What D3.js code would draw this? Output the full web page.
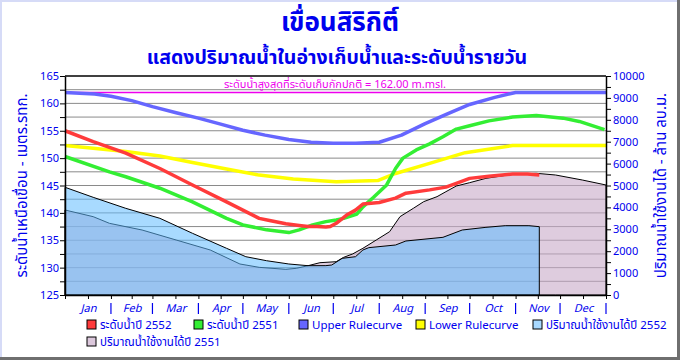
<!DOCTYPE html>
<html><head><meta charset="utf-8">
<script src="https://cdn.jsdelivr.net/npm/d3@7"></script>
<style>
body{margin:0;background:#fff;}
svg{display:block;}
text{font-family:Tahoma,"Noto Sans Thai","Noto Sans","DejaVu Sans",sans-serif;}
</style></head><body>
<svg id="c" width="680" height="360"></svg>
<script>
// ---------- DATA ----------
const months = ["Jan","Feb","Mar","Apr","May","Jun","Jul","Aug","Sep","Oct","Nov","Dec"];
const monthStart = [0,31,59,90,120,151,181,212,243,273,304,334,365];
const levelTicks = d3.range(125, 165.01, 2.5);
const volumeTicks = d3.range(0, 10000.1, 500);

// Upper rule curve (m.msl) by day of year
const upperDays = [0, 20, 31, 45, 59, 75, 90, 105, 120, 135, 151, 166, 181, 196, 212, 227, 243, 258, 273, 290, 304, 365];
const upperVals = [162, 161.7, 161.3, 160.5, 159.4, 158.3, 157.3, 156.2, 155.1, 154.2, 153.4, 152.9, 152.7, 152.7, 152.9, 154.2, 156.3, 158.1, 159.8, 161.1, 162, 162];

// Lower rule curve
const lowerDays = [0, 19, 41, 64, 86, 109, 131, 154, 183, 211, 223, 246, 270, 302, 365];
const lowerVals = [152.3, 151.8, 151.2, 150.4, 149.2, 148.0, 146.9, 146.2, 145.7, 145.9, 147.2, 149.05, 151.0, 152.3, 152.3];

// Water level 2552
const level52Days = [0, 19, 41, 64, 86, 109, 131, 138, 149, 158, 164, 170, 176, 179, 183, 190, 196, 201, 212, 223, 230, 246, 257, 264, 273, 286, 302, 312, 320];
const level52Vals = [155.0, 153.0, 150.9, 148.1, 145.1, 142.0, 139.0, 138.6, 138.0, 137.7, 137.5, 137.5, 137.4, 137.5, 138.1, 139.6, 140.5, 141.6, 141.9, 142.7, 143.6, 144.2, 144.7, 145.4, 146.3, 146.7, 147.1, 147.1, 146.9];

// Water level 2551
const level51Days = [0, 30, 41, 64, 86, 109, 120, 136, 151, 158, 167, 176, 183, 188, 197, 201, 208, 217, 223, 228, 237, 246, 255, 264, 273, 286, 302, 318, 336, 347, 364];
const level51Vals = [150.3, 147.5, 146.6, 144.5, 142.0, 139.0, 137.8, 136.9, 136.4, 136.9, 137.8, 138.4, 138.7, 139.0, 139.8, 141.1, 142.8, 145.1, 148.1, 150.0, 151.5, 152.6, 153.9, 155.3, 155.9, 156.8, 157.5, 157.8, 157.3, 156.7, 155.2];

// Usable storage 2552 (million m3)
const vol52Days = [0, 19, 41, 64, 86, 109, 122, 136, 151, 164, 176, 180, 187, 196, 201, 205, 223, 230, 255, 268, 284, 297, 313, 320];
const vol52Vals = [4918, 4461, 3957, 3502, 2817, 2132, 1749, 1566, 1416, 1338, 1340, 1370, 1674, 1749, 2055, 2162, 2283, 2466, 2634, 2968, 3090, 3166, 3166, 3120];

// Usable storage 2551
const vol51Days = [0, 19, 30, 52, 75, 98, 118, 131, 149, 156, 164, 172, 183, 188, 194, 201, 210, 219, 226, 235, 242, 251, 257, 264, 273, 284, 302, 318, 331, 349, 365];
const vol51Vals = [3881, 3577, 3272, 2968, 2511, 2055, 1416, 1263, 1172, 1218, 1338, 1475, 1521, 1720, 1872, 2132, 2511, 2891, 3577, 3957, 4262, 4490, 4718, 4977, 5129, 5327, 5511, 5557, 5479, 5251, 5023];

const normalLevel = 162.0;

// ---------- CHART ----------
const svg = d3.select("#c");
const W = 680, H = 360;
const L = 65, R = 606, T = 76, B = 295;
const blue = "#0000ee";

// frame
svg.append("rect").attr("x",0).attr("y",0).attr("width",W).attr("height",H).attr("fill","#fff");
svg.append("rect").attr("x",0).attr("y",0).attr("width",2).attr("height",H).attr("fill","#d6dbf7");
svg.append("rect").attr("x",0).attr("y",0).attr("width",W).attr("height",2).attr("fill","#d6dbf7");
svg.append("rect").attr("x",W-3).attr("y",0).attr("width",3).attr("height",H).attr("fill","#6f6f6f");
svg.append("rect").attr("x",0).attr("y",H-3).attr("width",W).attr("height",3).attr("fill","#6f6f6f");

const x = d3.scaleLinear().domain([0,365]).range([L,R]);
const yL = d3.scaleLinear().domain([125,165]).range([B,T]);
const yR = d3.scaleLinear().domain([0,10000]).range([B,T]);

// titles
svg.append("text").attr("x",340).attr("y",31).attr("text-anchor","middle")
  .attr("font-size",26).attr("font-weight","bold").attr("fill",blue).text("เขื่อนสิริกิติ์");
svg.append("text").attr("x",337).attr("y",64).attr("text-anchor","middle")
  .attr("font-size",19.5).attr("font-weight","bold").attr("fill",blue).text("แสดงปริมาณน้ำในอ่างเก็บน้ำและระดับน้ำรายวัน");

// gridlines
svg.append("g").selectAll("line").data(levelTicks.filter(v=>v>125 && v<165)).join("line")
  .attr("x1",L).attr("x2",R).attr("y1",d=>yL(d)).attr("y2",d=>yL(d))
  .attr("stroke","#8a8a8a").attr("stroke-width",1);

// areas
const mk = (days, vals) => days.map((d,i)=>({d, v: vals[i]}));
const areaGen = d3.area().x(p=>x(p.d)).y0(yR(0)).y1(p=>yR(p.v));
const v51 = mk(vol51Days, vol51Vals), v52 = mk(vol52Days, vol52Vals);
svg.append("path").datum(v51).attr("d",areaGen)
  .attr("fill","rgb(200,170,200)").attr("fill-opacity",0.6)
  .attr("stroke","#000").attr("stroke-width",1);
svg.append("path").datum(v52).attr("d",areaGen)
  .attr("fill","rgb(97,188,255)").attr("fill-opacity",0.55)
  .attr("stroke","#000").attr("stroke-width",1);

// normal storage level line + text
svg.append("line").attr("x1",L).attr("x2",R).attr("y1",yL(normalLevel)).attr("y2",yL(normalLevel))
  .attr("stroke","#ee00ee").attr("stroke-width",1.5);
svg.append("text").attr("x",335).attr("y",yL(normalLevel)-4).attr("text-anchor","middle")
  .attr("font-size",11).attr("fill","#ee00ee").text("ระดับน้ำสูงสุดที่ระดับเก็บกักปกติ = 162.00 m.msl.");

// lines
const lineGen = d3.line().x(p=>x(p.d)).y(p=>yL(p.v));
const series = [
  {days: lowerDays, vals: lowerVals, color: "#ffff00"},
  {days: upperDays, vals: upperVals, color: "#6666ff"},
  {days: level51Days, vals: level51Vals, color: "#33ee33"},
  {days: level52Days, vals: level52Vals, color: "#ff3b3b"}
];
series.forEach(s=>{
  svg.append("path").datum(mk(s.days,s.vals)).attr("d",lineGen)
    .attr("fill","none").attr("stroke",s.color).attr("stroke-width",3.5)
    .attr("stroke-linejoin","round").attr("stroke-linecap","butt");
});

// top frame line
svg.append("line").attr("x1",L).attr("x2",R).attr("y1",T).attr("y2",T).attr("stroke","#000").attr("stroke-width",1.5);

// left axis
const axL = svg.append("g").attr("transform",`translate(${L},0)`)
  .call(d3.axisLeft(yL).tickValues(levelTicks).tickSize(5).tickSizeOuter(0)
    .tickFormat(d => d % 5 === 0 ? d3.format("d")(d) : ""));
// right axis
const axR = svg.append("g").attr("transform",`translate(${R},0)`)
  .call(d3.axisRight(yR).tickValues(volumeTicks).tickSize(5).tickSizeOuter(0)
    .tickFormat(d => d % 1000 === 0 ? d3.format("d")(d) : ""));
// bottom axis ticks
const mids = monthStart.slice(0,12).map((s,i)=>(s+monthStart[i+1])/2);
const axB = svg.append("g").attr("transform",`translate(0,${B})`)
  .call(d3.axisBottom(x).tickValues(monthStart.concat(mids)).tickSize(4).tickSizeOuter(0).tickFormat(""));
[axL, axR, axB].forEach(g=>{
  g.select(".domain").attr("stroke","#000").attr("stroke-width",1.5);
  g.selectAll(".tick line").attr("stroke","#000");
  g.selectAll(".tick text").attr("fill",blue).attr("font-size",11)
    .attr("font-family","Tahoma,'DejaVu Sans',sans-serif");
});
axL.selectAll(".tick text").attr("x",-6);
axR.selectAll(".tick text").attr("x",7);

// month labels
const axM = svg.append("g").attr("transform",`translate(0,${B+4})`)
  .call(d3.axisBottom(x).tickValues(mids).tickSize(0).tickFormat((d,i)=>months[i]));
axM.select(".domain").remove();
axM.selectAll(".tick text").attr("fill",blue).attr("font-size",11).attr("font-style","italic")
  .attr("font-family","'Liberation Serif','Times New Roman',serif").attr("dy","0.9em");
// month separators
svg.append("g").selectAll("line").data(monthStart.slice(1)).join("line")
  .attr("x1",d=>x(d)).attr("x2",d=>x(d)).attr("y1",B+8).attr("y2",B+19)
  .attr("stroke",blue).attr("stroke-width",1.2);

// axis titles
svg.append("text").attr("transform",`translate(27,${(T+B)/2}) rotate(-90)`).attr("text-anchor","middle")
  .attr("font-size",15).attr("fill",blue).text("ระดับน้ำเหนือเขื่อน - เมตร.รทก.");
svg.append("text").attr("transform",`translate(666,${(T+B)/2}) rotate(-90)`).attr("text-anchor","middle")
  .attr("font-size",15).attr("fill",blue).text("ปริมาณน้ำใช้งานได้ - ล้าน ลบ.ม.");

// legend
const legend = [
  {label:"ระดับน้ำปี 2552", color:"#ff3b3b", x:87, y:325},
  {label:"ระดับน้ำปี 2551", color:"#33ee33", x:194, y:325},
  {label:"Upper Rulecurve", color:"#6666ff", x:299, y:325},
  {label:"Lower Rulecurve", color:"#ffff00", x:416, y:325},
  {label:"ปริมาณน้ำใช้งานได้ปี 2552", color:"#a8d9ff", x:533, y:325},
  {label:"ปริมาณน้ำใช้งานได้ปี 2551", color:"#dcc8dc", x:87, y:342}
];
const lg = svg.append("g").selectAll("g").data(legend).join("g")
  .attr("transform",d=>`translate(${d.x},${d.y})`);
lg.append("rect").attr("x",0).attr("y",-5).attr("width",9).attr("height",9)
  .attr("fill",d=>d.color).attr("stroke","#000").attr("stroke-width",1);
lg.append("text").attr("x",13).attr("y",4).attr("font-size",11.5).attr("fill",blue).text(d=>d.label);
</script>
</body></html>
